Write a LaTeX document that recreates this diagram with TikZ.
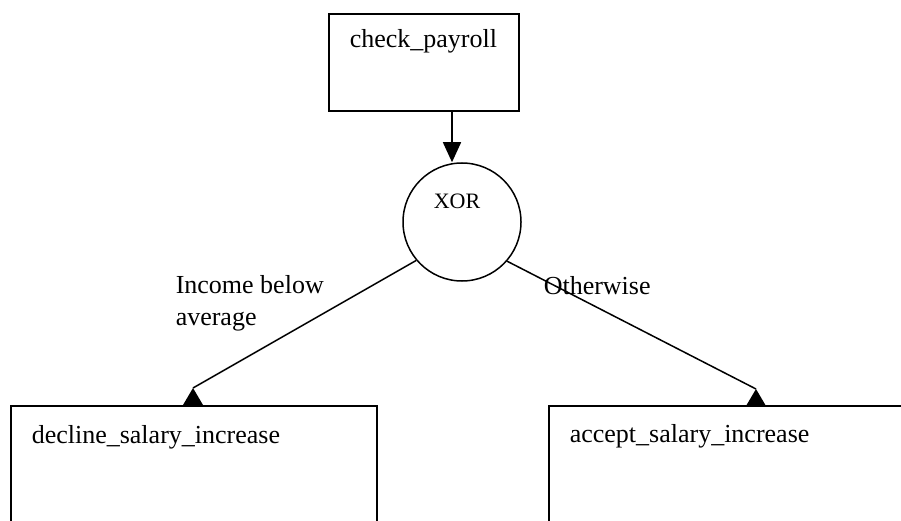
\documentclass[tikz,border=0pt]{standalone}
\usepackage{fontspec}
\setmainfont{Liberation Serif}
\usetikzlibrary{arrows.meta,positioning}

\begin{document}
\begin{tikzpicture}[x=1pt,y=-1pt,line width=1.5pt,
                    font=\fontsize{26}{32}\selectfont]
  \tikzstyle{task}=[draw,rectangle,line width=2pt,inner sep=0pt]
  \tikzstyle{gate}=[draw,circle,inner sep=0pt,minimum size=118pt]
  \tikzstyle{txt}=[inner sep=0pt,anchor=base west]

  \useasboundingbox (0,0) rectangle (901,521);
  \clip (0,0) rectangle (901,521);

  \node[task,minimum width=190pt,minimum height=97pt]  (pay) at (424,62.5) {};
  \node[gate]                                          (xor) at (462,222)  {};
  \node[task,minimum width=366pt,minimum height=200pt] (dec) at (194,506)  {};
  \node[task,minimum width=420pt,minimum height=200pt] (acc) at (759,506)  {};

  \node[txt] (paytxt) at ([xshift=21pt,yshift=-35pt]pay.north west) {check\_payroll};
  \node[txt] (dectxt) at ([xshift=21pt,yshift=-38pt]dec.north west) {decline\_salary\_increase};
  \node[txt] (acctxt) at ([xshift=21pt,yshift=-37pt]acc.north west) {accept\_salary\_increase};
  \node[inner sep=0pt,font=\fontsize{22}{26}\selectfont]
             (xortxt) at ([xshift=-5pt,yshift=21pt]xor.center) {XOR};

  % tips of the two branches, on top of the boxes
  \coordinate (decin) at ([xshift=183pt,yshift=17pt]dec.north west);
  \coordinate (accin) at ([xshift=208pt,yshift=16pt]acc.north west);

  \draw[-{Triangle[length=20pt,width=18pt]}]
        ([xshift=28pt]pay.south) -- ([xshift=28pt]pay.south |- xor.north);
  \draw (xor.220) -- (decin);
  \draw (xor.-41) -- (accin);
  \fill (decin) -- ++(-10,17) -- ++(20,0) -- cycle;
  \fill (accin) -- ++(-10,17) -- ++(20,0) -- cycle;

  % base of a two-line node sits on its last line
  \node[txt,align=left] (below) at (175,325) {Income below\\average};
  \node[txt]            (other) at (543,294) {Otherwise};
\end{tikzpicture}
\end{document}
